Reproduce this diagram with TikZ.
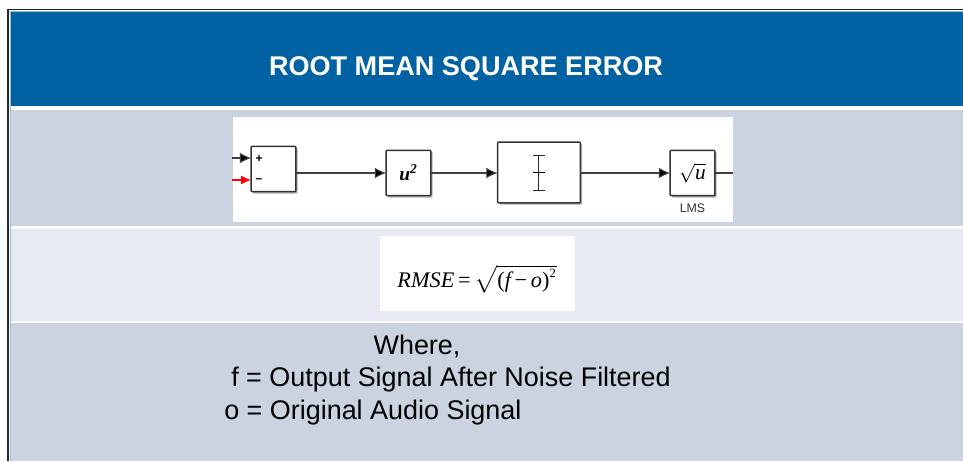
\documentclass[tikz,border=0pt]{standalone}
\usepackage{amsmath}
\usepackage{fontspec}
\setmainfont{Liberation Sans}
\newfontfamily\timesfont{Liberation Serif}
\usetikzlibrary{positioning,calc,shadows,arrows.meta}
\definecolor{HeadBlue}{RGB}{0,98,163}
\definecolor{RowDark}{RGB}{203,210,224}
\definecolor{RowLight}{RGB}{231,234,243}
\definecolor{EdgeBlue}{RGB}{150,190,220}
\tikzstyle{Block}=[rectangle,draw=black!80,fill=white,line width=1.1pt,rounded corners=0.6pt,inner sep=0pt,outer sep=0pt,
  drop shadow={shadow xshift=1.4pt,shadow yshift=-1.4pt,fill=black,opacity=0.3}]
\tikzset{wire/.style={-{Latex[length=8.5pt,width=8pt,fill=black]},black!75,line width=0.8pt}}
\begin{document}
\begin{tikzpicture}[x=0.75pt,y=-0.75pt]
  \useasboundingbox (0,0) rectangle (963,461);
  \fill [white] (0,0) rectangle (963,461);
  % rows
  \fill [RowDark] (10,110) rectangle (963,226);
  \fill [RowLight] (10,229) rectangle (963,321);
  \fill [RowDark] (10,323) rectangle (963,461);
  \fill [HeadBlue] (10,11) rectangle (963,106);
  \draw [EdgeBlue,line width=0.8pt] (10.5,461) -- (10.5,11.5) -- (963,11.5);
  \draw [black!85,line width=1pt] (8,461) -- (8,9.5) -- (963,9.5);
  \node [text=white,font=\bfseries\fontsize{20.3}{24}\selectfont] (Title) at (466,69) {ROOT MEAN SQUARE ERROR};
  % white panels
  \fill [white] (233,117) rectangle (733,222);
  \fill [white] (380,236) rectangle (575,311);

  \node [Block,minimum width=33.5pt,minimum height=34pt] (Sum) at (273.5,169) {};
  \node [Block,minimum width=33.5pt,minimum height=34pt,font=\timesfont\bfseries\itshape\fontsize{14.5}{16}\selectfont] (Square) at (408.5,173) {u\textsuperscript{2}};
  \node [Block,minimum width=62pt,minimum height=45.5pt] (Mean) at (539,172.5) {};
  \node [Block,minimum width=33.5pt,minimum height=34pt,font=\fontsize{15}{17}\selectfont] (Root) at (692.5,173) {$\sqrt{\text{\timesfont\itshape\fontsize{16}{18}\selectfont u}}$};
  \node [below=2.5pt of Root,font=\fontsize{9.3}{11}\selectfont,text=black!80] (Lms) {LMS};
  \node [font=\bfseries\fontsize{9}{10}\selectfont] (Plus) at (259,158.5) {+};
  \node [font=\bfseries\fontsize{9}{10}\selectfont] (Minus) at (259,181) {--};

  \coordinate (InA) at (232,158);
  \coordinate (InB) at (232,180);
  \coordinate (Out) at (733,173);
  \draw [wire] (InA) -- (InA -| Sum.west);
  \draw [wire,red,-{Latex[length=7.5pt,width=6.5pt,fill=red]}] (InB) -- (InB -| Sum.west);
  \draw [wire] (Sum.east |- Square) -- (Square.west);
  \draw [wire] (Square.east) -- (Mean.west |- Square);
  \draw [wire] (Mean.east |- Root) -- (Root.west);
  \draw [black!75,line width=0.8pt] (Root.east) -- (Out);

  \draw [black!85,line width=0.7pt] (533,155) -- (545,155) (538.5,155) -- (538.5,190) (533,190) -- (545,190);
  \draw [black,line width=1.3pt] (533,172.5) -- (545,172.5);

  \node (Formula) at (477,279) {\fontsize{16.7}{19}\timesfont\itshape RMSE\,\upshape{=}\,$\sqrt{\text{\timesfont\fontsize{16.7}{19}\selectfont(\itshape f\upshape\,\textminus\,\itshape o\upshape)}^{\text{\timesfont\fontsize{9.5}{11}\selectfont 2}}}$};

  \node [font=\fontsize{20.2}{24}\selectfont] (Where) at (417,346.5) {Where,};
  \node [font=\fontsize{20.2}{24}\selectfont,anchor=west,inner sep=0pt] (Fline) at (231,380) {f = Output Signal After Noise Filtered};
  \node [font=\fontsize{20.2}{24}\selectfont,anchor=west,inner sep=0pt] (Oline) at (224,413) {o = Original Audio Signal};
\end{tikzpicture}
\end{document}
